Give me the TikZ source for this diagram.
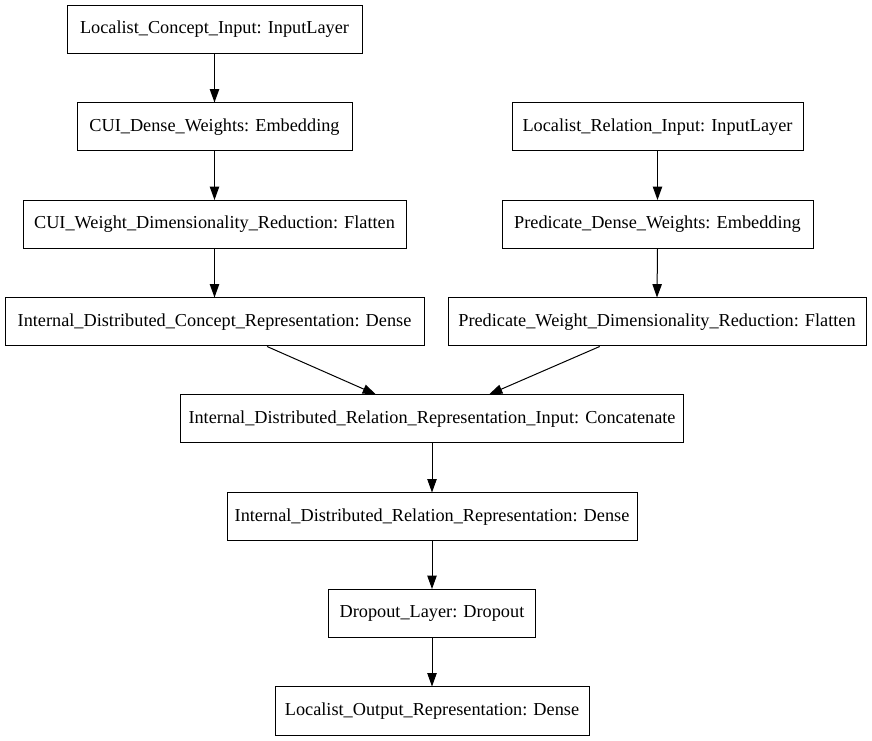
\documentclass[tikz,border=0pt]{standalone}
\usepackage{fontspec}
\setmainfont{Liberation Serif}
\newfontfamily\gvfont{Liberation Serif}
\usetikzlibrary{arrows.meta}
\begin{document}
\begin{tikzpicture}[x=0.75pt,y=-0.75pt,
  layer/.style={draw, line width=0.75pt, inner sep=0pt, minimum height=36pt,
    font=\gvfont\fontsize{13.7}{16}\selectfont, fill=white},
  conn/.style={line width=0.75pt, -{Triangle[length=10pt,width=7pt]}}]
\path[use as bounding box, fill=white] (0,0) rectangle (872,741);
\node[layer, minimum width=221.25pt] (lci) at (214.5,29.5) {Localist\_Concept\_Input: InputLayer};
\node[layer, minimum width=206.25pt] (cdw) at (214.5,127) {CUI\_Dense\_Weights: Embedding};
\node[layer, minimum width=218.25pt] (lri) at (657.5,127) {Localist\_Relation\_Input: InputLayer};
\node[layer, minimum width=287.25pt] (cwd) at (214.5,224.5) {CUI\_Weight\_Dimensionality\_Reduction: Flatten};
\node[layer, minimum width=233.25pt] (pdw) at (657.5,224.5) {Predicate\_Dense\_Weights: Embedding};
\node[layer, minimum width=314.25pt] (idc) at (214.5,322) {Internal\_Distributed\_Concept\_Representation: Dense};
\node[layer, minimum width=313.5pt] (pwd) at (657,322) {Predicate\_Weight\_Dimensionality\_Reduction: Flatten};
\node[layer, minimum width=377.25pt] (iri) at (432,419) {Internal\_Distributed\_Relation\_Representation\_Input: Concatenate};
\node[layer, minimum width=307.5pt] (ird) at (432,517) {Internal\_Distributed\_Relation\_Representation: Dense};
\node[layer, minimum width=155.25pt] (dl) at (432,613.5) {Dropout\_Layer: Dropout};
\node[layer, minimum width=235.5pt] (lor) at (432,711) {Localist\_Output\_Representation: Dense};
\draw[conn] (lci.south) -- (cdw.north);
\draw[conn] (cdw.south) -- (cwd.north);
\draw[conn] (cwd.south) -- (idc.north);
\draw[conn] (lri.south) -- (pdw.north);
\draw[conn] (pdw.south) -- (pwd.north);
\draw[conn] ([xshift=39.4pt]idc.south) -- ([xshift=-42pt]iri.north);
\draw[conn] ([xshift=-43pt]pwd.south) -- ([xshift=42.75pt]iri.north);
\draw[conn] (iri.south) -- (ird.north);
\draw[conn] (ird.south) -- (dl.north);
\draw[conn] (dl.south) -- (lor.north);
\end{tikzpicture}
\end{document}
